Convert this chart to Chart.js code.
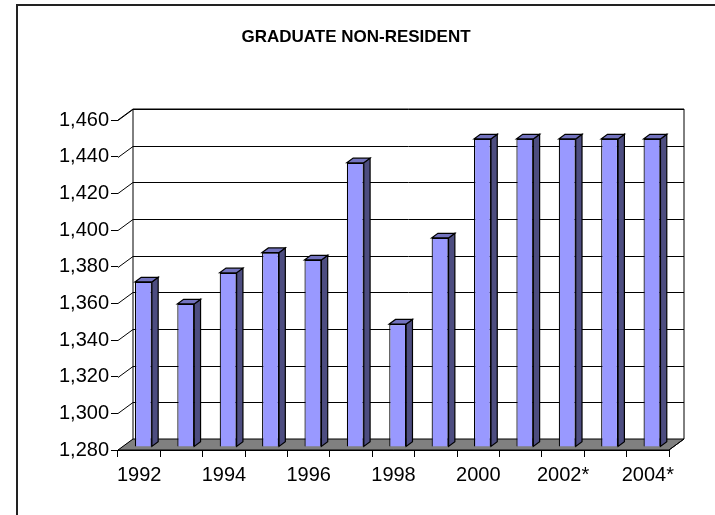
<!DOCTYPE html>
<html>
<head>
<meta charset="utf-8">
<script src="https://cdn.jsdelivr.net/npm/chart.js@4.4.1/dist/chart.umd.min.js"></script>
<style>
  body { margin: 0; background: #fff; }
  canvas { display: block; }
</style>
</head>
<body>
<canvas id="gradChart" width="715" height="515"></canvas>
<script>
// data
const years = ['1992', '1993', '1994', '1995', '1996', '1997', '1998', '1999', '2000', '2001', '2002*', '2003*', '2004*'];
const students = [1370, 1358, 1375, 1386, 1382, 1435, 1347, 1394, 1448, 1448, 1448, 1448, 1448];
const yMin = 1280;
const yMax = 1460;
const yStep = 20;
const chartTitle = 'GRADUATE NON-RESIDENT';

// 3d look, excel style
const depth = { dx: 15, dy: -11 };
const barFront = 0.28;   // where the bar front sits inside the depth
const barBack = 0.70;

const FONT = "'Liberation Sans', Arial, sans-serif";

const excel3d = {
  id: 'excel3d',
  beforeDraw(chart) {
    const ctx = chart.ctx;
    ctx.save();
    ctx.fillStyle = '#fff';
    ctx.fillRect(0, 0, chart.width, chart.height);
    // outer frame of the chart object
    ctx.strokeStyle = '#222';
    ctx.lineWidth = 2;
    ctx.strokeRect(17, 5, 800, 600);
    // title
    ctx.fillStyle = '#000';
    ctx.font = 'bold 17px ' + FONT;
    ctx.textAlign = 'center';
    ctx.textBaseline = 'middle';
    ctx.fillText(chartTitle, 356, 37);
    ctx.restore();
  },
  beforeDatasetsDraw(chart) {
    const ctx = chart.ctx;
    const a = chart.chartArea;
    const ys = chart.scales.y;
    const dx = depth.dx, dy = depth.dy;
    ctx.save();
    ctx.lineWidth = 1;
    ctx.strokeStyle = '#000';

    // back wall
    ctx.fillStyle = '#fff';
    ctx.fillRect(a.left + dx, a.top + dy, a.right - a.left, a.bottom - a.top);
    // left wall
    ctx.beginPath();
    ctx.moveTo(a.left, a.top);
    ctx.lineTo(a.left + dx, a.top + dy);
    ctx.lineTo(a.left + dx, a.bottom + dy);
    ctx.lineTo(a.left, a.bottom);
    ctx.closePath();
    ctx.fill();

    // gridlines: back wall + diagonal on left wall
    ys.ticks.forEach(t => {
      const y = Math.round(ys.getPixelForValue(t.value)) + 0.5;
      ctx.beginPath();
      ctx.moveTo(a.left, y);
      ctx.lineTo(a.left + dx, y + dy);
      ctx.lineTo(a.right + dx, y + dy);
      ctx.stroke();
    });

    // floor
    ctx.fillStyle = '#808080';
    ctx.beginPath();
    ctx.moveTo(a.left, a.bottom);
    ctx.lineTo(a.right, a.bottom);
    ctx.lineTo(a.right + dx, a.bottom + dy);
    ctx.lineTo(a.left + dx, a.bottom + dy);
    ctx.closePath();
    ctx.fill();
    ctx.stroke();

    // wall outlines
    ctx.beginPath();
    ctx.moveTo(a.left, a.top);
    ctx.lineTo(a.left + dx, a.top + dy);
    ctx.lineTo(a.right + dx, a.top + dy);
    ctx.lineTo(a.right + dx, a.bottom + dy);
    ctx.lineTo(a.right, a.bottom);
    ctx.moveTo(a.left + dx, a.top + dy);
    ctx.lineTo(a.left + dx, a.bottom + dy);
    ctx.stroke();
    ctx.restore();

    // shift the bar fronts into the depth
    ctx.save();
    ctx.translate(dx * barFront, dy * barFront);
  },
  afterDatasetsDraw(chart) {
    const ctx = chart.ctx;
    const ddx = depth.dx * (barBack - barFront);
    const ddy = depth.dy * (barBack - barFront);
    const meta = chart.getDatasetMeta(0);
    meta.data.forEach(bar => {
      const p = bar.getProps(['x', 'y', 'base', 'width'], true);
      const x0 = p.x - p.width / 2, x1 = p.x + p.width / 2;
      const yt = p.y, yb = p.base;
      ctx.lineWidth = 1.2;
      ctx.strokeStyle = '#000';
      // side
      ctx.fillStyle = '#4d4d80';
      ctx.beginPath();
      ctx.moveTo(x1, yt);
      ctx.lineTo(x1 + ddx, yt + ddy);
      ctx.lineTo(x1 + ddx, yb + ddy);
      ctx.lineTo(x1, yb);
      ctx.closePath();
      ctx.fill();
      ctx.stroke();
      // top
      ctx.fillStyle = '#7373bf';
      ctx.beginPath();
      ctx.moveTo(x0, yt);
      ctx.lineTo(x0 + ddx, yt + ddy);
      ctx.lineTo(x1 + ddx, yt + ddy);
      ctx.lineTo(x1, yt);
      ctx.closePath();
      ctx.fill();
      ctx.stroke();
    });
    ctx.restore();
  }
};

const config = {
  type: 'bar',
  data: {
    labels: years,
    datasets: [{
      data: students,
      base: yMin,
      backgroundColor: '#9999ff',
      borderColor: '#000',
      borderWidth: 1.2,
      categoryPercentage: 1,
      barPercentage: 0.4
    }]
  },
  options: {
    responsive: false,
    animation: false,
    layout: { padding: { left: 0, right: 46, top: 120, bottom: 0 } },
    plugins: {
      legend: { display: false },
      tooltip: { enabled: false },
      title: { display: false }
    },
    scales: {
      x: {
        grid: { offset: true, drawOnChartArea: false, drawTicks: true, tickLength: 7, color: '#000' },
        border: { display: true, color: '#000' },
        ticks: {
          color: '#000',
          font: { family: FONT, size: 20 },
          padding: 6,
          autoSkip: false,
          maxRotation: 0,
          callback: (v, i) => (i % 2 === 0 ? years[i] : '')
        },
        afterFit: s => { s.height = 65; }
      },
      y: {
        min: yMin,
        max: yMax,
        grid: { drawOnChartArea: false, drawTicks: true, tickLength: 7, color: '#000' },
        border: { display: true, color: '#000' },
        ticks: {
          stepSize: yStep,
          color: '#000',
          font: { family: FONT, size: 20 },
          padding: 2,
          callback: v => v.toLocaleString('en-US')
        },
        afterFit: s => { s.width = 118; }
      }
    }
  },
  plugins: [excel3d]
};

new Chart(document.getElementById('gradChart'), config);
</script>
</body>
</html>
